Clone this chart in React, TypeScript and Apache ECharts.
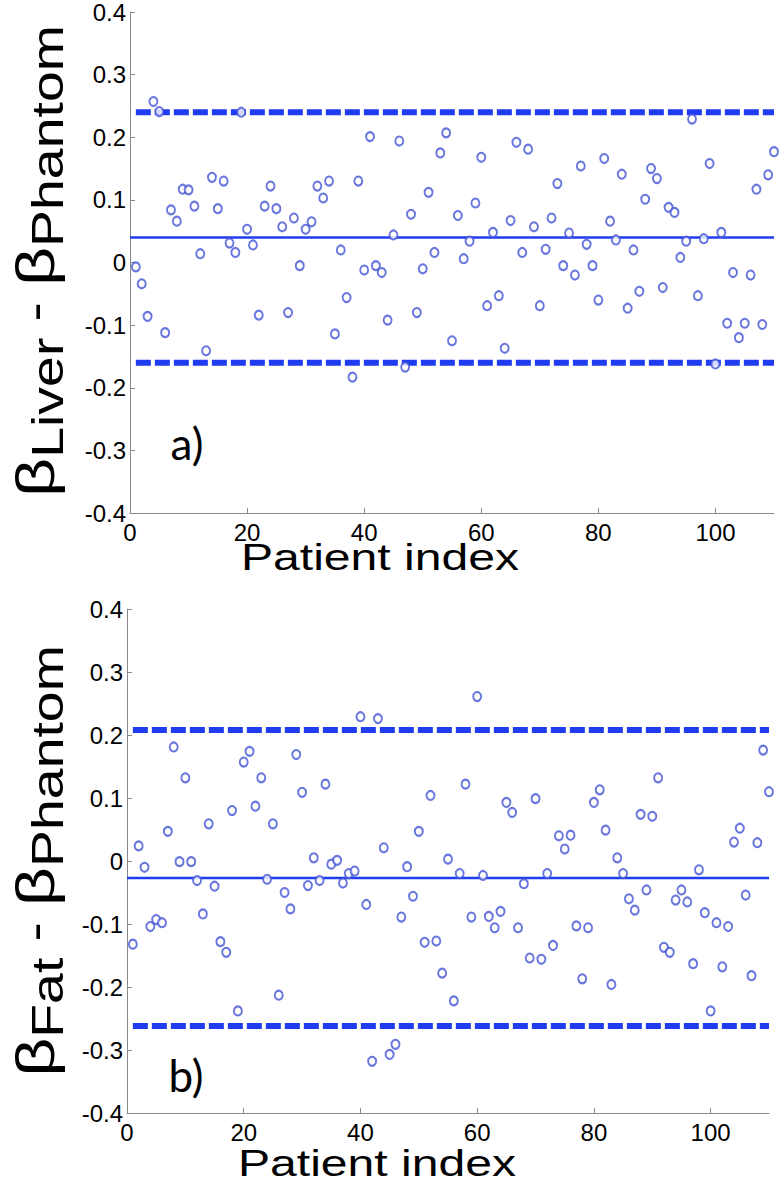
import React, { useEffect, useRef } from "react";
import * as echarts from "echarts";

// β_Liver - β_Phantom for patients 1..110
const liverDiff = [
  -0.007, -0.034, -0.086, 0.257, 0.241, -0.112, 0.084, 0.066, 0.117, 0.116,
  0.09, 0.014, -0.141, 0.136, 0.086, 0.13, 0.031, 0.016, 0.24, 0.053,
  0.028, -0.084, 0.09, 0.122, 0.086, 0.057, -0.08, 0.071, -0.005, 0.053,
  0.065, 0.122, 0.103, 0.13, -0.114, 0.02, -0.056, -0.183, 0.13, -0.012,
  0.201, -0.005, -0.016, -0.092, 0.044, 0.194, -0.167, 0.077, -0.08, -0.01,
  0.112, 0.016, 0.175, 0.207, -0.125, 0.075, 0.006, 0.034, 0.095, 0.168,
  -0.069, 0.048, -0.053, -0.137, 0.067, 0.192, 0.016, 0.181, 0.057, -0.069,
  0.021, 0.071, 0.126, -0.005, 0.047, -0.02, 0.154, 0.029, -0.005, -0.06,
  0.166, 0.066, 0.036, 0.141, -0.073, 0.02, -0.046, 0.101, 0.15, 0.134,
  -0.04, 0.088, 0.08, 0.008, 0.034, 0.229, -0.053, 0.038, 0.158, -0.162,
  0.048, -0.097, -0.016, -0.12, -0.097, -0.02, 0.117, -0.099, 0.14, 0.177,
];

// β_Fat - β_Phantom for patients 1..110
const fatDiff = [
  -0.132, 0.024, -0.01, -0.104, -0.093, -0.098, 0.047, 0.181, -0.001, 0.132,
  -0.001, -0.031, -0.084, 0.059, -0.04, -0.128, -0.145, 0.08, -0.238, 0.157,
  0.174, 0.087, 0.132, -0.029, 0.059, -0.213, -0.05, -0.076, 0.169, 0.109,
  -0.039, 0.005, -0.031, 0.122, -0.005, 0.001, -0.035, -0.02, -0.016, 0.229,
  -0.069, -0.318, 0.226, 0.021, -0.307, -0.291, -0.089, -0.009, -0.056, 0.047,
  -0.129, 0.104, -0.127, -0.178, 0.003, -0.222, -0.02, 0.122, -0.089, 0.261,
  -0.023, -0.088, -0.106, -0.08, 0.093, 0.077, -0.106, -0.036, -0.154, 0.099,
  -0.156, -0.02, -0.134, 0.04, 0.019, 0.041, -0.103, -0.187, -0.106, 0.093,
  0.113, 0.049, -0.196, 0.005, -0.02, -0.06, -0.078, 0.074, -0.046, 0.071,
  0.132, -0.137, -0.145, -0.062, -0.046, -0.065, -0.163, -0.014, -0.082, -0.238,
  -0.098, -0.168, -0.104, 0.03, 0.052, -0.054, -0.182, 0.029, 0.176, 0.11,
];

const liverMean = 0.04;
const liverUpper = 0.24;
const liverLower = -0.16;
const fatMean = -0.027;
const fatUpper = 0.208;
const fatLower = -0.262;

const xTicks = [0, 20, 40, 60, 80, 100];
const yTicks = [-0.4, -0.3, -0.2, -0.1, 0, 0.1, 0.2, 0.3, 0.4];
const xRange = [0, 110];
const yRange = [-0.4, 0.4];

const FONT = "'Liberation Sans', Arial, Helvetica, sans-serif";
const AXIS_COLOR = "#8a8a8a";
const LINE_COLOR = "#1f3cf0";
const MARKER_COLOR = "#4454d4";

function makeXAxis(gridIndex: number) {
  return {
    type: "value",
    gridIndex,
    min: xRange[0],
    max: xRange[1],
    interval: 20,
    axisLine: { show: true, onZero: false, lineStyle: { color: AXIS_COLOR, width: 1 } },
    axisTick: { show: true, inside: true, length: 5, customValues: xTicks, lineStyle: { color: AXIS_COLOR } },
    axisLabel: { show: true, customValues: xTicks, color: "#000", fontSize: 24, fontFamily: FONT, margin: 7 },
    splitLine: { show: false },
  };
}

function makeYAxis(gridIndex: number) {
  return {
    type: "value",
    gridIndex,
    min: yRange[0],
    max: yRange[1],
    interval: 0.1,
    axisLine: { show: true, onZero: false, lineStyle: { color: AXIS_COLOR, width: 1 } },
    axisTick: { show: true, inside: true, length: 5, customValues: yTicks, lineStyle: { color: AXIS_COLOR } },
    axisLabel: {
      show: true,
      customValues: yTicks,
      color: "#000",
      fontSize: 24,
      fontFamily: FONT,
      margin: 4,
      formatter: (v: number) => String(Number(v.toFixed(1))),
    },
    splitLine: { show: false },
  };
}

function hLine(gridIndex: number, x0: number, y: number, dashed: boolean) {
  return {
    type: "line",
    xAxisIndex: gridIndex,
    yAxisIndex: gridIndex,
    data: [
      [x0, y],
      [xRange[1], y],
    ],
    showSymbol: false,
    symbol: "none",
    silent: true,
    z: 1,
    lineStyle: dashed
      ? { color: LINE_COLOR, width: 6, type: [15, 4] }
      : { color: LINE_COLOR, width: 2.5, type: "solid" },
  };
}

function scatter(gridIndex: number, values: number[]) {
  return {
    type: "scatter",
    xAxisIndex: gridIndex,
    yAxisIndex: gridIndex,
    data: values.map((v, i) => [i + 1, v]),
    symbol: "emptyCircle",
    symbolSize: [8, 9],
    z: 3,
    itemStyle: { color: MARKER_COLOR, borderColor: MARKER_COLOR, borderWidth: 1 },
  };
}

function yLabel(x: number, y: number, sub1: string) {
  return {
    type: "text",
    x,
    y,
    rotation: Math.PI / 2,
    scaleX: 1.26,
    scaleY: 1,
    style: {
      text: `{b|β}{s|${sub1}}{m| - }{b|β}{s|Phantom}`,
      align: "center",
      verticalAlign: "middle",
      fill: "#000",
      rich: {
        b: { fontSize: 54, fontFamily: FONT, lineHeight: 70, fill: "#000" },
        m: { fontSize: 46, fontFamily: FONT, lineHeight: 70, fill: "#000" },
        s: { fontSize: 44, fontFamily: FONT, lineHeight: 46, verticalAlign: "bottom", fill: "#000" },
      },
    },
  };
}

function textEl(x: number, y: number, text: string, size: number, family: string, sx = 1) {
  return {
    type: "text",
    x,
    y,
    scaleX: sx,
    style: { text, fontSize: size, fontFamily: family, fill: "#000", align: "center", verticalAlign: "middle" },
  };
}

export default function App() {
  const ref = useRef<HTMLDivElement>(null);
  useEffect(() => {
    if (!ref.current) return;
    const chart = echarts.init(ref.current, null, { renderer: "svg" });
    chart.setOption({
      animation: false,
      backgroundColor: "#fff",
      grid: [
        { left: 130, top: 10, width: 644, height: 503, containLabel: false },
        { left: 127, top: 609, width: 642, height: 504, containLabel: false },
      ],
      xAxis: [makeXAxis(0), makeXAxis(1)],
      yAxis: [makeYAxis(0), makeYAxis(1)],
      series: [
        hLine(0, 0, liverMean, false),
        hLine(0, 1, liverUpper, true),
        hLine(0, 1, liverLower, true),
        scatter(0, liverDiff),
        hLine(1, 0, fatMean, false),
        hLine(1, 1, fatUpper, true),
        hLine(1, 1, fatLower, true),
        scatter(1, fatDiff),
      ],
      graphic: [
        yLabel(35, 261, "Liver"),
        yLabel(35, 861, "Fat"),
        textEl(380, 557, "Patient index", 37, FONT, 1.3),
        textEl(377, 1163, "Patient index", 37, FONT, 1.3),
        textEl(187, 443, "a)", 44, "Lato, 'Open Sans', sans-serif"),
        textEl(186, 1075, "b)", 44, "Lato, 'Open Sans', sans-serif"),
      ],
    });
    return () => chart.dispose();
  }, []);
  return (
    <div
      ref={ref}
      style={{ position: "absolute", left: 0, top: 0, width: 780, height: 1183, background: "#fff" }}
    />
  );
}
